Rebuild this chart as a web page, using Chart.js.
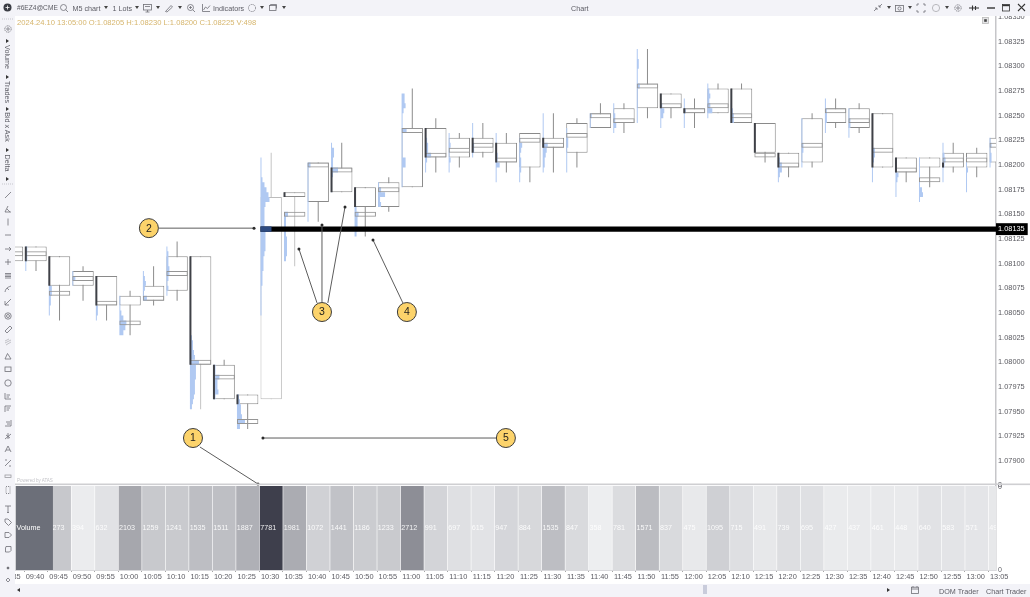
<!DOCTYPE html>
<html>
<head>
<meta charset="utf-8">
<script src="https://cdn.jsdelivr.net/npm/chart.js@4"></script>
<style>
html,body{margin:0;padding:0;background:#fff;overflow:hidden;width:1030px;height:597px;font-family:"Liberation Sans",sans-serif;}
#c{position:absolute;left:0;top:0;filter:blur(.35px);}
.bar{position:absolute;background:#f3f3f8;z-index:5;color:#5c5c64;font-size:7.2px;}
.t{position:absolute;white-space:nowrap;filter:blur(.2px);}
svg.ic{position:absolute;overflow:visible;filter:blur(.2px);}
</style>
</head>
<body>
<canvas id="c" width="1030" height="597"></canvas>
<div class="bar" id="top" style="left:0;top:0;width:1030px;height:15.5px;"></div>
<div class="bar" id="left" style="left:0;top:0;width:15px;height:597px;z-index:4;"></div>
<div class="bar" id="bottom" style="left:15px;top:584px;width:1015px;height:13px;z-index:4;"></div>
<div class="t" style="left:17px;top:18px;font-size:7.6px;color:#d6b56c;z-index:6;">2024.24.10 13:05:00 O:1.08205 H:1.08230 L:1.08200 C:1.08225 V:498</div>
<div class="t" style="left:17px;top:478px;font-size:4.5px;color:#c3c3c8;z-index:6;">Powered by ATAS</div>
<script>
const timeLabels=['09:35','09:40','09:45','09:50','09:55','10:00','10:05','10:10','10:15','10:20','10:25','10:30','10:35','10:40','10:45','10:50','10:55','11:00','11:05','11:10','11:15','11:20','11:25','11:30','11:35','11:40','11:45','11:50','11:55','12:00','12:05','12:10','12:15','12:20','12:25','12:30','12:35','12:40','12:45','12:50','12:55','13:00','13:05'];
const bodyTop=[1.081175,1.081175,1.081075,1.080925,1.080875,1.080675,1.080775,1.081075,1.081075,1.079975,1.079675,1.081675,1.081725,1.082025,1.081975,1.081775,1.081825,1.082375,1.082375,1.082275,1.082275,1.082225,1.082325,1.082275,1.082425,1.082525,1.082575,1.082825,1.082725,1.082575,1.082775,1.082775,1.082425,1.082125,1.082475,1.082575,1.082575,1.082525,1.082075,1.082075,1.082125,1.082125,1.082275];
const bodyBottom=[1.081025,1.081025,1.080775,1.080775,1.080575,1.080575,1.080625,1.080725,1.079975,1.079625,1.079575,1.079625,1.081675,1.081625,1.081725,1.081575,1.081575,1.081775,1.082075,1.082075,1.082125,1.082025,1.081975,1.082175,1.082125,1.082375,1.082425,1.082575,1.082575,1.082525,1.082525,1.082425,1.082125,1.081975,1.082025,1.082425,1.082375,1.081975,1.081925,1.081975,1.081975,1.081975,1.082025];
const boxTop=[1.081125,1.081125,1.080725,1.080875,1.080625,1.080425,1.080675,1.080925,1.080025,1.079875,1.079425,1.081375,1.081525,1.082025,1.081975,1.081525,1.081775,1.082375,1.082125,1.082175,1.082225,1.082075,1.082275,1.082225,1.082325,1.082525,1.082475,1.082825,1.082625,1.082575,1.082625,1.082525,1.082125,1.082025,1.082225,1.082575,1.082475,1.082175,1.081975,1.081875,1.082075,1.082075,1.082225];
const boxBottom=[1.081075,1.081075,1.080675,1.080825,1.080575,1.080375,1.080625,1.080875,1.079975,1.079825,1.079375,1.081325,1.081475,1.081975,1.081925,1.081475,1.081725,1.082325,1.082075,1.082125,1.082175,1.082025,1.082225,1.082175,1.082275,1.082475,1.082425,1.082775,1.082575,1.082525,1.082575,1.082475,1.082075,1.081975,1.082175,1.082525,1.082425,1.082125,1.081925,1.081825,1.082025,1.082025,1.082175];
const wickHigh=[1.081175,1.081175,1.081075,1.080975,1.080875,1.080725,1.080975,1.081225,1.081075,1.080025,1.079675,1.082125,1.081725,1.082025,1.082225,1.081775,1.081875,1.082775,1.082475,1.082325,1.082425,1.082325,1.082325,1.082525,1.082475,1.082625,1.082625,1.083175,1.082725,1.082675,1.082825,1.082825,1.082425,1.082125,1.082525,1.082675,1.082625,1.082525,1.082075,1.082075,1.082225,1.082175,1.082325];
const wickLow=[1.081025,1.080925,1.080425,1.080625,1.080425,1.080275,1.080575,1.080625,1.079525,1.079625,1.079325,1.079625,1.080975,1.081425,1.081725,1.081275,1.081525,1.081775,1.081925,1.081975,1.082075,1.081925,1.081825,1.081925,1.081975,1.082375,1.082325,1.082475,1.082475,1.082375,1.082525,1.082425,1.082025,1.081875,1.081975,1.082375,1.082325,1.081975,1.081825,1.081775,1.081925,1.081875,1.081975];
const heavyEdgeTop=[null,1.081175,1.081075,null,1.080875,null,null,null,1.081075,1.079975,1.079675,null,1.081725,null,1.081975,1.081775,null,null,1.082375,null,1.082275,1.082225,null,1.082275,null,null,null,null,1.082725,1.082575,null,1.082775,1.082425,1.082125,null,null,null,1.082525,1.082075,null,1.082025,null,null];
const profileStart=[1.081175,1.081175,1.080825,1.080925,1.080575,1.080675,1.080925,1.081175,1.080475,1.079975,1.079675,1.082075,1.081525,1.082025,1.082225,1.081575,1.081825,1.082725,1.082325,1.082325,1.082425,1.082325,1.082275,1.082525,1.082375,1.082525,1.082625,1.083175,1.082625,1.082675,1.082825,1.082625,1.082425,1.082075,1.082475,1.082675,1.082575,1.082275,1.082025,1.082075,1.082225,1.082075,1.082275];
const profileWidths=[[2,2,1],[2,2,2,1,1],[1,3,3,2,2,1,1],[1,3,1],[2,2,1],[1,1,1,2,4,7,6,4],[1,2,3,2,1,4],[1,2,2,2,3,3,2,1,2,1],[1,1,1,1,2,3,3,4,5,9,6,6,6,5,5,5,4,3,2],[2,2,6,4,4,5,2],[2,3,4,4,5,8,3],[1,1,1,1,2,4,6,8,9,5,4,4,4,4,11,5,5,5,5,4,3,3,3,2,2,2,1,1,1,1,1,1],[4,2,2,2,2,3,3,3,3,2],[3,1,1,1,1,1,1,1,1,1,1,1],[1,3,3,2,2,7,2,1,1,1],[2,4,3,3,3,2],[1,3,7,2,3],[3,3,4,2,1,1,1,5,1,1,1,1,1,4,4,1,1,1,1],[1,2,3,3,6,2,1,1],[1,1,2,1,1,2,1,1],[1,1,1,1,2,2,1],[1,1,1,1,2,2,4,1,1,1],[1,3,2,1,2,2,2,1,1],[1,1,1,1,1,1,5,4,3,2,2,1],[1,1,2,2,1,1,1,1,1],[2,1,1],[1,1,2,2,3,1],[1,1,2,2,1,1,1,3,1,1,1,1,1,1,1],[2,4,3,1,1],[1,1,2,1,1,1],[1,2,3,2,3,5,1],[1,2,3,3],[],[2,4,4,2,1],[1,1,1,1,1,2,2,1,1,1],[1,1,2,2,2,1,1],[1,1,2,2,1,1],[1,1,3,3,2,1,1,1,1],[1,1,3,2,1,1,1],[1,1,1,1,1,1,3,4,1],[1,1,2,3,2,1,1,1],[1,1,2,1,1,1,1],[1,2,1,2,2,1]];
const volumes=[null,1400,1273,394,632,2103,1259,1241,1535,1511,1887,7781,1981,1072,1441,1186,1233,2712,991,697,615,947,884,1535,847,358,781,1571,837,475,1095,715,491,739,695,427,437,461,448,640,583,571,498];
const priceLine=1.08135;
const priceLineStart='10:30';
const lightCandles=['10:30'];
const lightWicks=['10:15','10:30','10:35'];
const badgeLabels=['1','2','3','4','5'];
const badgeX=[7.675,5.80,13.16,16.77,20.98];
const badgeY=[1.079233,1.08136,1.08051,1.08051,1.079233];
const arrowStartX=[7.97,6.23,12.95,13.16,13.41,16.6,20.56];
const arrowStartY=[1.079142,1.08136,1.080602,1.080612,1.080602,1.080602,1.079233];
const arrowTipX=[10.44,10.27,12.18,13.16,14.14,15.33,10.65];
const arrowTipY=[1.078767,1.08136,1.081149,1.081392,1.081575,1.08124,1.079233];

const slotPx=23.52, bodyPx=21.4, xMin=0.107, xMax=41.82, tick=0.00005;
const leftEdge=i=>i-bodyPx/2/slotPx;
const gap={x:null,y:null};
const profilePts=[];
profileWidths.forEach((w,i)=>w.forEach((v,j)=>{
  const y=profileStart[i]-(j+.5)*tick;
  profilePts.push({x:leftEdge(i),y},{x:leftEdge(i)+v/slotPx,y},gap);
}));
const heavyPts=[];
heavyEdgeTop.forEach((t,i)=>{ if(t!==null) heavyPts.push({x:leftEdge(i)+.5/slotPx,y:t},{x:leftEdge(i)+.5/slotPx,y:bodyBottom[i]},gap); });
const lineIdx=timeLabels.indexOf(priceLineStart);
const cellGrey=v=>{const g=v<=2712?Math.round(251-.0405*v):Math.round(141-(v-2712)*(141-62)/(7781-2712));return `rgb(${g},${g+1},${Math.round(g+2+(255-g)*.06)})`;};
const base={pointRadius:0,tension:0,spanGaps:false,borderCapStyle:'butt',yAxisID:'y',type:'line',fill:false};
const datasets=[
 {type:'bar',grouped:false,label:'Volume',yAxisID:'yv',order:10,barThickness:22.9,inflateAmount:0,borderWidth:0,
  data:volumes.map((v,i)=>({x:i,y:v===null?null:[0,8000]})),
  backgroundColor:c=>volumes[c.dataIndex]===null?'#fff':cellGrey(volumes[c.dataIndex])},
 {type:'bar',grouped:false,label:'Wick',yAxisID:'y',order:9,barThickness:1,inflateAmount:0,borderWidth:0,
  data:wickHigh.map((h,i)=>({x:i,y:[wickLow[i],h]})),
  backgroundColor:c=>lightWicks.includes(timeLabels[c.dataIndex])?'#c4c4c4':'#8c8c8c'},
 {type:'bar',grouped:false,label:'Body',yAxisID:'y',order:8,barThickness:bodyPx,inflateAmount:0,borderWidth:1,borderSkipped:false,
  data:bodyTop.map((h,i)=>({x:i,y:[bodyBottom[i],h]})),backgroundColor:'#ffffff',
  borderColor:c=>lightCandles.includes(timeLabels[c.dataIndex])?'#bcbcbc':'#8a8a8a'},
 {...base,label:'Profile',order:7.5,borderColor:'#b0c9f2',borderWidth:4.93,data:profilePts},
 {type:'bar',grouped:false,label:'Box',yAxisID:'y',order:7,barThickness:bodyPx,inflateAmount:0,borderWidth:1,borderSkipped:false,
  data:boxTop.map((h,i)=>({x:i,y:[boxBottom[i],h]})),backgroundColor:'rgba(0,0,0,0)',
  borderColor:c=>lightCandles.includes(timeLabels[c.dataIndex])?'rgba(0,0,0,0)':'#959595'},
 {...base,label:'Heavy',order:5,borderColor:'#3f4147',borderWidth:2,data:heavyPts},
 {...base,label:'Level',order:4,borderColor:'#000',borderWidth:5.4,
  data:[{x:leftEdge(lineIdx),y:priceLine},{x:xMax,y:priceLine}]},
 {...base,label:'POC',order:3,borderColor:'#2d4a80',borderWidth:5.4,
  data:[{x:leftEdge(lineIdx),y:priceLine},{x:leftEdge(lineIdx)+profileWidths[lineIdx][14]/slotPx,y:priceLine}]},
 ...arrowStartX.map((x,i)=>({...base,label:'Arrow',order:2,clip:false,borderColor:'#5c5c5c',borderWidth:1,
   pointRadius:[0,1.5],pointBackgroundColor:'#2a2a2a',pointBorderWidth:0,
   data:[{x,y:arrowStartY[i]},{x:arrowTipX[i],y:arrowTipY[i]}]})),
 {type:'scatter',label:'Badges',yAxisID:'y',order:1,clip:false,pointRadius:9.5,pointBorderWidth:1,
  pointBackgroundColor:'#fcd36b',pointBorderColor:'#3a3a3a',showLine:false,
  data:badgeX.map((x,i)=>({x,y:badgeY[i]}))}
];
const overlay={id:'overlay',
 afterDatasetsDraw(ch){
  const {ctx,chartArea:a,scales:{x,yv,y}}=ch; ctx.save();
  // volume cell values
  ctx.save();ctx.beginPath();ctx.rect(a.left,yv.top,a.right-a.left,yv.bottom-yv.top);ctx.clip();
  ctx.font='7.2px "Liberation Sans"';ctx.textBaseline='middle';ctx.textAlign='left';ctx.fillStyle='rgba(255,255,255,.9)';
  volumes.forEach((v,i)=>{if(v!==null)ctx.fillText(String(v),x.getPixelForValue(i)-11,(yv.top+yv.bottom)/2+1);});
  // "Volume" row header
  const hr=x.getPixelForValue(1.72);
  ctx.fillStyle='#6c6f79';ctx.fillRect(a.left+.7,yv.getPixelForValue(8000),hr-a.left-.7,yv.bottom-yv.getPixelForValue(8000));
  ctx.fillStyle='#fff';ctx.fillText('Volume',a.left+1.5,(yv.top+yv.bottom)/2+1);
  ctx.restore();
  // pane divider
  ctx.fillStyle='#cfcfd2';ctx.fillRect(a.left,y.bottom-.5,a.right-a.left+34,1.6);
  ctx.fillStyle='#d9d9dc';ctx.fillRect(a.left,a.bottom,a.right-a.left,1);
  // badge numerals
  const m=ch.getDatasetMeta(ch.data.datasets.length-1);
  ctx.font='10.5px "Liberation Sans"';ctx.textAlign='center';ctx.textBaseline='middle';ctx.fillStyle='#1c1c1c';
  m.data.forEach((p,i)=>ctx.fillText(badgeLabels[i],p.x,p.y+.5));
  ctx.restore();
 }};
new Chart(document.getElementById('c'),{
 type:'bar',
 data:{datasets},
 plugins:[overlay],
 options:{responsive:false,animation:false,devicePixelRatio:1,
  layout:{padding:{top:17,left:15,right:0,bottom:14}},
  plugins:{legend:{display:false},tooltip:{enabled:false},title:{display:false}},
  events:[],
  scales:{
   x:{type:'linear',min:xMin,max:xMax,offset:false,
      grid:{display:true,drawOnChartArea:false,tickLength:2,color:'#a5a5a5',tickWidth:1},
      border:{display:false},
      afterBuildTicks:s=>{s.ticks=timeLabels.map((_,i)=>({value:i}));},
      afterFit:s=>{s.height=13;s.paddingLeft=0;s.paddingRight=0;},
      ticks:{autoSkip:false,maxRotation:0,minRotation:0,padding:1,color:'#5c5c63',font:{family:'Liberation Sans',size:7.4},
             labelOffset:-1,callback:v=>timeLabels[v]}},
   y:{type:'linear',position:'right',stack:'panes',stackWeight:467,min:1.078767,max:1.0835,
      grid:{display:false,drawTicks:false},border:{display:true,color:'#c6c6c9',width:1.5},
      afterBuildTicks:s=>{const t=[];for(let k=0;k<19;k++)t.push({value:1.0835-k*.00025});t.push({value:priceLine});s.ticks=t;},
      afterFit:s=>{s.width=34;},
      ticks:{autoSkip:false,padding:2,font:{family:'Liberation Sans',size:7.4},
        color:c=>c.tick&&c.tick.value===priceLine?'#fff':'#5a5a60',
        showLabelBackdrop:c=>c.tick&&c.tick.value===priceLine,
        backdropColor:c=>c.tick&&c.tick.value===priceLine?'#000':'rgba(0,0,0,0)',
        backdropPadding:{left:2,right:3,top:1.5,bottom:1.5},
        callback:v=>v.toFixed(5)}},
   yv:{type:'linear',position:'right',stack:'panes',stackWeight:86,min:0,max:8190,
      grid:{display:false,drawTicks:false},border:{display:true,color:'#c6c6c9',width:1.5},
      afterBuildTicks:s=>{s.ticks=[{value:0},{value:7900},{value:8050}];},
      afterFit:s=>{s.width=34;},
      ticks:{autoSkip:false,padding:2,color:'#5c5c63',font:{family:'Liberation Sans',size:7},
        callback:v=>v===8050?'8':'0'}}
  }}
});

// window chrome (toolbars) -----------------------------------------------
const svg=(host,x,y,w,h,inner)=>{host.insertAdjacentHTML('beforeend',`<svg class="ic" style="left:${x}px;top:${y}px" width="${w}" height="${h}" viewBox="0 0 ${w} ${h}" fill="none" stroke="#6f6f76" stroke-width=".8">${inner}</svg>`);};
const txt=(host,x,y,s,extra='')=>{host.insertAdjacentHTML('beforeend',`<div class="t" style="left:${x}px;top:${y}px;${extra}">${s}</div>`);};
const top_=document.getElementById('top'),left_=document.getElementById('left'),bot_=document.getElementById('bottom');
const caret=x=>svg(top_,x-2,6,4,3,'<path d="M0 0H4L2 3Z" fill="#444" stroke="none"/>');
svg(top_,3,3,9,9,'<circle cx="4.5" cy="4.5" r="4" fill="#3a3c44" stroke="none"/><path d="M2.5 4.5h4M4.5 2.5v4" stroke="#fff"/>');
txt(top_,17,4,'#6EZ4@CME','font-size:6.6px;');
svg(top_,60,3.5,8,8,'<circle cx="3.5" cy="3.5" r="3"/><path d="M5.7 5.7L8 8"/>');
txt(top_,72.5,4,'M5 chart');caret(106);
txt(top_,112.5,4,'1 Lots');caret(137);
svg(top_,143,3.5,9,8,'<rect x=".5" y=".5" width="8" height="5.5"/><path d="M4.5 6v2M2.5 8h4M2 2.5h5"/>');caret(158);
svg(top_,165,3.5,8,8,'<path d="M.5 7.5L6 1.5l1.5 1.5L2 8z"/>');caret(180);
svg(top_,187,3.5,8,8,'<circle cx="3.5" cy="3.5" r="3"/><path d="M5.7 5.7L8 8M2 3.5h3M3.5 2v3"/>');
svg(top_,202,3.5,8,8,'<path d="M.5 0v7.5H8M1.5 6l2-3 2 1.5L8 1.5"/>');
txt(top_,213,4,'Indicators');
svg(top_,248,3.5,8,8,'<circle cx="4" cy="4" r="3.6" stroke-dasharray="1.2 .7"/>');caret(262);
svg(top_,269,4,8,7,'<rect x=".5" y="1.5" width="6.5" height="5"/><path d="M1.5 1.5V.5h6v4"/>');caret(284);
txt(top_,571,4,'Chart');
svg(top_,874,4,8,7,'<path d="M0 7L3 4M8 0L5 3M1 4h2v2M5 1v2h2"/>');caret(889);
svg(top_,895,3.5,9,8,'<rect x=".5" y="1.5" width="8" height="6"/><circle cx="4.5" cy="4.5" r="1.6"/>');caret(910);
svg(top_,917,3.5,8,8,'<path d="M0 2V0h2M6 0h2v2M8 6v2H6M2 8H0V6"/>');
svg(top_,932,3.5,8,8,'<circle cx="4" cy="4" r="3.6" stroke="#a9a9ae"/>');caret(947);
svg(top_,954,3.5,8,8,'<circle cx="4" cy="4" r="3.2" stroke-dasharray="1.3 .6"/><circle cx="4" cy="4" r="1.2"/>');
svg(top_,969,4.5,10,6,'<path d="M0 3h10M3.5 .5v5M6.5 1v4" stroke="#333" stroke-width="1.1"/>');
svg(top_,987,7,8,2,'<path d="M0 1h8" stroke="#333" stroke-width="1.4"/>');
svg(top_,1002,4,8,7,'<rect x=".5" y=".5" width="7" height="6.5" stroke="#333"/><path d="M.5 1.5h7" stroke="#333" stroke-width="1.4"/>');
svg(top_,1018,4,7,7,'<path d="M0 0L7 7M7 0L0 7" stroke="#333" stroke-width="1.1"/>');
svg(document.body,982,17,7,7,'<rect x=".5" y=".5" width="6" height="6" fill="#e4e4e6" stroke="#bbb"/><rect x="2.2" y="2.2" width="2.6" height="2.6" fill="#444" stroke="none"/>');
document.body.lastElementChild.style.zIndex=6;
svg(document.body,994,226.2,4,6,'<path d="M4 0V6L0 3Z" fill="#000" stroke="none"/>');
document.body.lastElementChild.style.zIndex=6;

[['Volume',57],['Trades',92],['Bid x Ask',127],['Delta',163]].forEach(([s,y])=>{
  left_.insertAdjacentHTML('beforeend',`<div class="t" style="left:2px;top:${y}px;width:11px;text-align:center;writing-mode:vertical-rl;transform:translateY(-50%);line-height:11px;">${s}</div>`);
});
[40,76,108,149,178].forEach(y=>svg(left_,5.5,y-1.5,3,4,'<path d="M0 0V4L3 2Z" fill="#333" stroke="none"/>'));
const glyphs=[
 [29,'<circle cx="4" cy="4" r="3.2" stroke-dasharray="1.3 .6"/><circle cx="4" cy="4" r="1.2"/>'],
 [195,'<path d="M1 7L7 1"/>'],[209,'<path d="M1 7L4 1M1 7H7M3 4l3 3"/>'],[222,'<path d="M4 0.5V7.5"/>'],[235,'<path d="M1 4H7"/>'],
 [249,'<path d="M1 4H7M5 2l2 2-2 2"/>'],[262,'<path d="M1 4H7M4 1V7"/>'],[276,'<path d="M1 1.5H7M1 3H7M1 4.5H7M1 6H7"/>'],
 [289,'<path d="M1 7C2 2 5 2 7 1M3 3l2 2"/>'],[302,'<path d="M1 7L7 1M1 3V7H5"/>'],[316,'<circle cx="4" cy="4" r="3.2"/><circle cx="4" cy="4" r="1.5"/>'],
 [329,'<path d="M1 6L6 1l2 2L3 8z"/>'],[342,'<path d="M1 3L5 1M1 5L7 2M2 7L7 4" stroke="#b5b5bb"/>'],[356,'<path d="M1 7H7L3.5 1.5z"/>'],
 [369,'<rect x="1" y="2" width="6" height="4.5"/>'],[383,'<circle cx="4" cy="4" r="3.2"/>'],[396,'<path d="M1 1V7H7M2.5 3H6M2.5 5H5"/>'],
 [409,'<path d="M1 1H7M1 1V7M2.5 3H6M2.5 5H5"/>'],[423,'<path d="M7 1V7H1M2 3H6M3 5H6"/>'],[436,'<path d="M1 7L7 2M2 3l4 3M4 1v6"/>'],
 [449,'<path d="M1 7L4 1 7 7M2 5H6"/>'],[463,'<path d="M1 7L7 1M1 1h2M5 7h2"/>'],[476,'<rect x="1" y="3" width="6" height="2.5" stroke="#9a9a9f"/>'],
 [490,'<rect x="2" y="0.5" width="4" height="7" stroke-dasharray="1 1"/>'],[509,'<path d="M1 1H7M4 1V7.5M3 7.5H5"/>'],[522,'<path d="M1 1H4L7.5 4.5 4.5 7.5 1 4Z"/>'],
 [535,'<path d="M1 1.5H5L7.5 4 5 6.5H1Z"/>'],[549,'<path d="M2 1.5H7V5.5L5.5 7H1.5V3Z"/>'],[568,'<circle cx="4" cy="4" r="1" fill="#555"/>'],[580,'<path d="M4 2L6 4 4 6 2 4Z"/>']
];
glyphs.forEach(([y,g])=>svg(left_,3.5,y-4,8,8,g));
[18,183].forEach(y=>svg(left_,2,y,11,2,'<path d="M0 1H11" stroke="#b9b9c0" stroke-dasharray="1 1"/>'));

svg(bot_,2,4,3,4,'<path d="M3 0V4L0 2Z" fill="#333" stroke="none"/>');
bot_.insertAdjacentHTML('beforeend','<div style="position:absolute;left:688px;top:1px;width:4px;height:9px;background:#c9ccdb;"></div>');
svg(bot_,872,4,3,4,'<path d="M0 0V4L3 2Z" fill="#333" stroke="none"/>');
svg(bot_,896,2,8,8,'<rect x=".5" y="1.2" width="7" height="6.3"/><path d="M.5 3H7.5M2 0V1.5M6 0V1.5"/>');
txt(bot_,924,2.5,'DOM Trader');
txt(bot_,971,2.5,'Chart Trader');
</script>
</body>
</html>
